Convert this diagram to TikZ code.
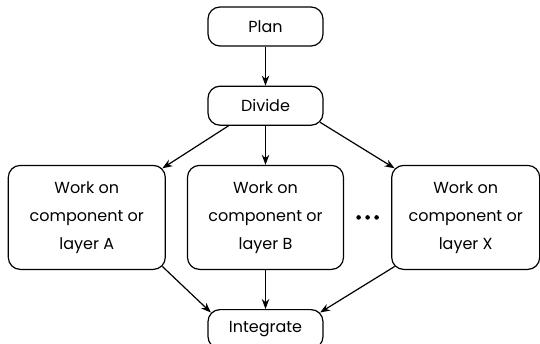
\documentclass[tikz,border=0pt]{standalone}
\usepackage{fontspec}
\setmainfont{Poppins}
\usetikzlibrary{arrows.meta,positioning,calc}

\begin{document}
\begin{tikzpicture}[
    x=1pt, y=1pt,
    node distance=39pt and 21pt,
    stage/.style={rectangle, draw=black, line width=1.2pt, rounded corners=12pt, minimum width=115pt, minimum height=39pt, align=center, inner sep=0pt, font=\fontsize{16}{28}\selectfont},
    work/.style={stage, minimum width=157pt, minimum height=104pt},
    arr/.style={-{Stealth[length=10pt,width=7.5pt]}, line width=1.2pt}
]
\useasboundingbox (0,0) rectangle (540,-343);
\node[stage] (plan) at (265.5,-26.5) {Plan};
\node[stage, below=of plan] (divide) {Divide};
\node[work, minimum width=156pt, below=of divide] (workB) {Work on\\component or\\layer B};
\node[work, left=of workB] (workA) {Work on\\component or\\layer A};
\node[work, minimum width=148pt, right=47pt of workB] (workX) {Work on\\component or\\layer X};
\node[stage, below=of workB] (integrate) {Integrate};

% dots between B and X
\coordinate (dots) at ($(workB.east)!0.5!(workX.west)$);
\foreach \dx in {-9,0,9}
    \fill ([xshift=\dx pt]dots) circle (2.3pt);

\draw[arr] (plan) -- (divide);
\draw[arr] ([xshift=-37pt]divide.south) -- ([shift={(-3.5pt,-3.5pt)}]workA.north east);
\draw[arr] (divide) -- (workB);
\draw[arr] ([shift={(-3.5pt,3.5pt)}]divide.south east) -- ([shift={(3.5pt,-3.5pt)}]workX.north west);
\draw[arr] ([shift={(-3.5pt,3.5pt)}]workA.south east) -- ([shift={(3.5pt,-3.5pt)}]integrate.north west);
\draw[arr] (workB) -- (integrate);
\draw[arr] ([shift={(3.5pt,3.5pt)}]workX.south west) -- ([shift={(-3.5pt,-3.5pt)}]integrate.north east);
\end{tikzpicture}
\end{document}
